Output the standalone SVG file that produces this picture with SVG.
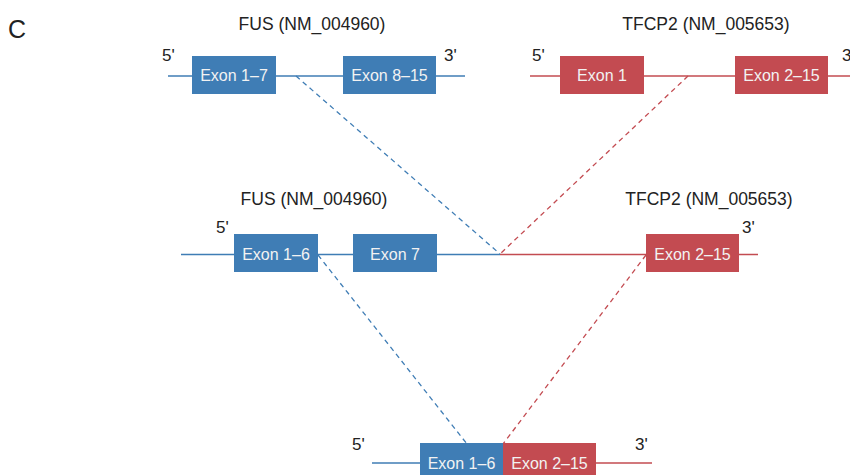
<svg xmlns="http://www.w3.org/2000/svg" width="850" height="475" viewBox="0 0 850 475">
<style>
text{font-family:"Liberation Sans",Arial,sans-serif;}
.t{font-size:17.5px;fill:#222;text-anchor:middle;}
.p{font-size:17px;fill:#222;}
.lb{font-size:16px;fill:#f2f2f2;text-anchor:middle;}
.bf{fill:#3f7db5;}
.rf{fill:#c34b51;}
.bl{stroke:#3f7db5;stroke-width:1.5;fill:none;}
.rl{stroke:#c34b51;stroke-width:1.5;fill:none;}
.bd{stroke:#3f7db5;stroke-width:1.3;stroke-dasharray:5,4;fill:none;}
.rd{stroke:#c34b51;stroke-width:1.3;stroke-dasharray:5,4;fill:none;}
</style>
<rect width="850" height="475" fill="#fff"/>
<text x="8" y="38" style="font-size:25px;fill:#222;font-family:'Liberation Sans',Arial,sans-serif">C</text>
<g id="connectors">
<line class="bl" x1="168" y1="76" x2="465" y2="76"/>
<line class="rl" x1="530" y1="76" x2="850" y2="76"/>
<line class="bl" x1="181" y1="254.5" x2="500" y2="254.5"/>
<line class="rl" x1="500" y1="254.5" x2="758" y2="254.5"/>
<line class="bl" x1="372" y1="463" x2="420" y2="463"/>
<line class="rl" x1="596" y1="463" x2="652" y2="463"/>
<line class="bd" x1="296" y1="76" x2="500" y2="254"/>
<line class="rd" x1="688" y1="76" x2="500" y2="254"/>
<line class="bd" x1="318" y1="255" x2="467" y2="444"/>
<line class="rd" x1="646" y1="255" x2="503" y2="444"/>
</g>
<g id="fus-top">
<text class="t" x="312" y="30">FUS (NM_004960)</text>
<text class="p" x="162" y="61">5'</text>
<text class="p" x="444" y="61">3'</text>
<rect class="bf" x="192" y="56" width="84" height="38"/>
<text class="lb" x="234" y="81">Exon 1–7</text>
<rect class="bf" x="343" y="56" width="93" height="38"/>
<text class="lb" x="389.5" y="81">Exon 8–15</text>
</g>
<g id="tfcp2-top">
<text class="t" x="706" y="30">TFCP2 (NM_005653)</text>
<text class="p" x="532" y="61">5'</text>
<text class="p" x="842" y="61">3'</text>
<rect class="rf" x="560" y="56" width="84" height="38"/>
<text class="lb" x="602" y="81">Exon 1</text>
<rect class="rf" x="735" y="56" width="93" height="38"/>
<text class="lb" x="781.5" y="81">Exon 2–15</text>
</g>
<g id="fus-mid">
<text class="t" x="314" y="205">FUS (NM_004960)</text>
<text class="p" x="216" y="233">5'</text>
<rect class="bf" x="234" y="234" width="84" height="38"/>
<text class="lb" x="276" y="260">Exon 1–6</text>
<rect class="bf" x="353" y="234" width="84" height="38"/>
<text class="lb" x="395" y="260">Exon 7</text>
</g>
<g id="tfcp2-mid">
<text class="t" x="709" y="205">TFCP2 (NM_005653)</text>
<text class="p" x="742" y="233">3'</text>
<rect class="rf" x="646" y="234" width="93" height="38"/>
<text class="lb" x="692.5" y="260">Exon 2–15</text>
</g>
<g id="fusion">
<text class="p" x="352" y="450">5'</text>
<text class="p" x="635" y="450">3'</text>
<rect class="bf" x="420" y="443" width="83" height="38"/>
<text class="lb" x="461.5" y="469">Exon 1–6</text>
<rect class="rf" x="503" y="443" width="93" height="38"/>
<text class="lb" x="549.5" y="469">Exon 2–15</text>
</g>
</svg>
